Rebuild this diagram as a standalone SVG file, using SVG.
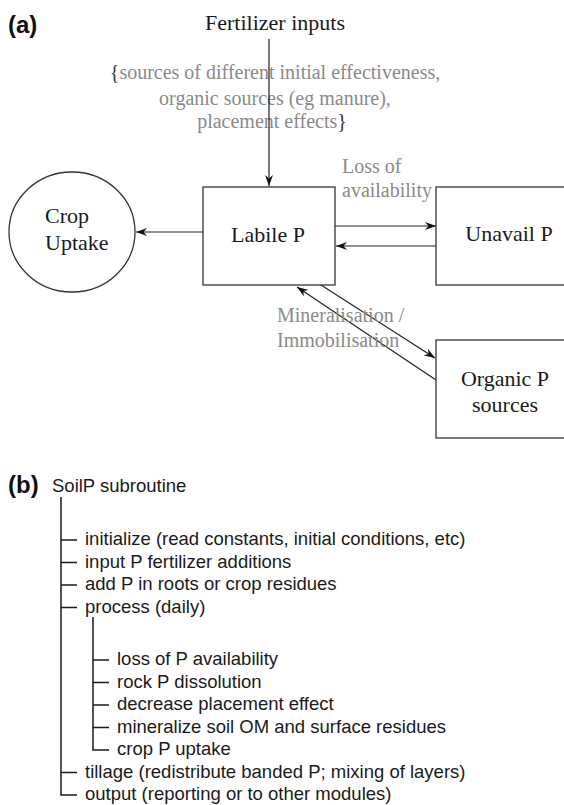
<svg xmlns="http://www.w3.org/2000/svg" width="564" height="805" viewBox="0 0 564 805">
<style>
.lbl{font-family:"Liberation Serif","Times New Roman",serif;font-size:22px;fill:#1a1a1a}
.gray{font-family:"Liberation Serif","Times New Roman",serif;font-size:20px;fill:#8a8a8a}
.brace{fill:#333}
.panel{font-family:"Liberation Sans",Arial,sans-serif;font-size:24px;font-weight:bold;fill:#111}
.tree{font-family:"Liberation Sans",Arial,sans-serif;font-size:18.5px;fill:#1a1a1a}
.box{fill:#fff;stroke:#333;stroke-width:1.3}
.conn{stroke:#222;stroke-width:1.2;fill:none}
.tl{stroke:#1a1a1a;stroke-width:1.5;fill:none}
</style>
<defs>
<marker id="arr" markerUnits="userSpaceOnUse" markerWidth="12" markerHeight="8" refX="11" refY="4" orient="auto">
<path d="M0,0 L11,4 L0,8 L3.5,4 z" fill="#111"/>
</marker>
</defs>
<rect width="564" height="805" fill="#fff"/>
<text class="panel" x="8" y="33">(a)</text>
<text class="lbl" x="275" y="30" text-anchor="middle">Fertilizer inputs</text>
<g id="fert-note">
<text class="gray" x="275" y="79" text-anchor="middle"><tspan class="brace">{</tspan>sources of different initial effectiveness,</text>
<text class="gray" x="275" y="105" text-anchor="middle">organic sources (eg manure),</text>
<text class="gray" x="272" y="128" text-anchor="middle">placement effects<tspan class="brace">}</tspan></text>
</g>
<g id="connectors">
<line class="conn" x1="269" y1="39" x2="269" y2="186" marker-end="url(#arr)"/>
<line class="conn" x1="203" y1="232" x2="136" y2="232" marker-end="url(#arr)"/>
<line class="conn" x1="335" y1="226" x2="436" y2="226" marker-end="url(#arr)"/>
<line class="conn" x1="436" y1="246" x2="336" y2="246" marker-end="url(#arr)"/>
<line class="conn" x1="321" y1="285" x2="435" y2="358" marker-end="url(#arr)"/>
<line class="conn" x1="436" y1="380" x2="297" y2="287" marker-end="url(#arr)"/>
</g>
<g id="crop-uptake">
<ellipse cx="72" cy="232" rx="63" ry="60" class="box"/>
<text class="lbl" x="45" y="223">Crop</text>
<text class="lbl" x="45" y="250">Uptake</text>
</g>
<g id="labile-p">
<rect x="203" y="187" width="132" height="98" class="box"/>
<text class="lbl" x="268" y="242" text-anchor="middle">Labile P</text>
</g>
<g id="unavail-p">
<rect x="436" y="187" width="150" height="98" class="box"/>
<text class="lbl" x="509" y="241" text-anchor="middle">Unavail P</text>
</g>
<g id="organic-p">
<rect x="436" y="340" width="150" height="98" class="box"/>
<text class="lbl" x="505" y="386" text-anchor="middle">Organic P</text>
<text class="lbl" x="505" y="412" text-anchor="middle">sources</text>
</g>
<g id="labels">
<text class="gray" x="342" y="173">Loss of</text>
<text class="gray" x="342" y="197">availability</text>
<text class="gray" x="277" y="322">Mineralisation /</text>
<text class="gray" x="277" y="347">Immobilisation</text>
</g>
<text class="panel" x="8" y="493">(b)</text>
<text class="tree" x="52" y="492">SoilP subroutine</text>
<g id="tree-lines">
<path class="tl" d="M61,497 V795 H77"/>
<path class="tl" d="M61,540 H77 M61,562.5 H77 M61,585 H77 M61,607.5 H77 M61,772.5 H77"/>
<path class="tl" d="M93,617 V750 H109"/>
<path class="tl" d="M93,660 H109 M93,682.5 H109 M93,705 H109 M93,727.5 H109"/>
</g>
<g id="tree-items">
<text class="tree" x="85" y="545">initialize (read constants, initial conditions, etc)</text>
<text class="tree" x="85" y="567.5">input P fertilizer additions</text>
<text class="tree" x="85" y="590">add P in roots or crop residues</text>
<text class="tree" x="85" y="612.5">process (daily)</text>
<text class="tree" x="117" y="665">loss of P availability</text>
<text class="tree" x="117" y="687.5">rock P dissolution</text>
<text class="tree" x="117" y="710">decrease placement effect</text>
<text class="tree" x="117" y="732.5">mineralize soil OM and surface residues</text>
<text class="tree" x="117" y="755">crop P uptake</text>
<text class="tree" x="85" y="777.5">tillage (redistribute banded P; mixing of layers)</text>
<text class="tree" x="85" y="800">output (reporting or to other modules)</text>
</g>
</svg>
